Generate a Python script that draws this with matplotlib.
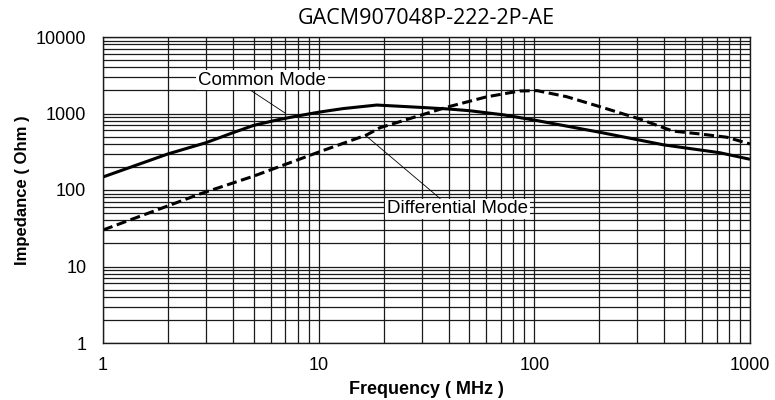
import matplotlib
matplotlib.use('Agg')
import matplotlib.pyplot as plt
from matplotlib.ticker import LogLocator, NullFormatter, FixedLocator, FixedFormatter

# data
cm_freq = [1, 2, 3, 4, 5, 6.5, 8, 10, 13, 18.6, 30, 40, 50, 72, 100, 200, 400, 725, 1000]
cm_z = [148, 296, 415, 560, 700, 830, 930, 1040, 1160, 1290, 1200, 1145, 1088, 960, 820, 570, 388, 307, 252]

dm_freq = [1, 2, 2.82, 5, 10, 16.7, 19.2, 23.7, 39.3, 60, 85.7, 103, 141, 201, 307, 438, 586, 779, 1000]
dm_z = [30, 62, 89, 152, 313, 525, 650, 780, 1210, 1650, 1970, 1990, 1660, 1230, 850, 590, 540, 490, 400]

x_ticks = [1, 10, 100, 1000]
y_ticks = [1, 10, 100, 1000, 10000]
title = 'GACM907048P-222-2P-AE'

fig = plt.figure(figsize=(7.75, 4), dpi=100)
ax = fig.add_axes([103 / 775, 57 / 400, 647 / 775, 306 / 400])

ax.set_xscale('log')
ax.set_yscale('log')
ax.set_xlim(1, 1000)
ax.set_ylim(1, 10000)

# curves
ax.plot(cm_freq, cm_z, color='black', lw=2.2, solid_capstyle='butt')
ax.plot(dm_freq, dm_z, color='black', lw=2.2, dashes=(3.3, 1.5))

# grid on every decade subdivision
ax.xaxis.set_minor_locator(LogLocator(base=10, subs=range(2, 10)))
ax.yaxis.set_minor_locator(LogLocator(base=10, subs=range(2, 10)))
ax.xaxis.set_minor_formatter(NullFormatter())
ax.yaxis.set_minor_formatter(NullFormatter())
ax.grid(True, which='both', color='#1a1a1a', lw=0.9)
ax.set_axisbelow(True)

ax.xaxis.set_major_locator(FixedLocator(x_ticks))
ax.xaxis.set_major_formatter(FixedFormatter([str(t) for t in x_ticks]))
ax.yaxis.set_major_locator(FixedLocator(y_ticks))
ax.yaxis.set_major_formatter(FixedFormatter([str(t) for t in y_ticks]))
ax.tick_params(which='both', length=0)
ax.tick_params(axis='y', pad=12, labelsize=13)
ax.tick_params(axis='x', pad=10, labelsize=13)
for lab in ax.get_xticklabels() + ax.get_yticklabels():
    lab.set_fontfamily('Liberation Sans')

for sp in ax.spines.values():
    sp.set_color('#1a1a1a')
    sp.set_linewidth(1.0)

ax.set_xlabel('Frequency ( MHz )', fontfamily='Liberation Sans', fontweight='bold',
              fontsize=13, labelpad=5)
ax.set_ylabel('Impedance ( Ohm )', fontfamily='Liberation Sans', fontweight='bold',
              fontsize=12)
ax.yaxis.set_label_coords(-0.113, 0.5)
ax.set_title(title, fontfamily='Open Sans', fontsize=15.5, pad=9)

# labels with leader lines
box = dict(boxstyle='square,pad=0.1', fc='white', ec='none')
ax.annotate('Common Mode', xy=(6.98, 1016), xytext=(5.46, 2740),
            fontfamily='Liberation Sans', fontsize=13.5, ha='center', va='center',
            bbox=box,
            arrowprops=dict(arrowstyle='-', lw=0.6, color='black',
                            shrinkA=0, shrinkB=0, relpos=(0.39, 0.0)))
ax.annotate('Differential Mode', xy=(16.4, 524), xytext=(44.2, 56.5),
            fontfamily='Liberation Sans', fontsize=13.5, ha='center', va='center',
            bbox=box,
            arrowprops=dict(arrowstyle='-', lw=0.6, color='black',
                            shrinkA=0, shrinkB=0, relpos=(0.39, 1.0)))

fig.savefig('out.png', dpi=100)
